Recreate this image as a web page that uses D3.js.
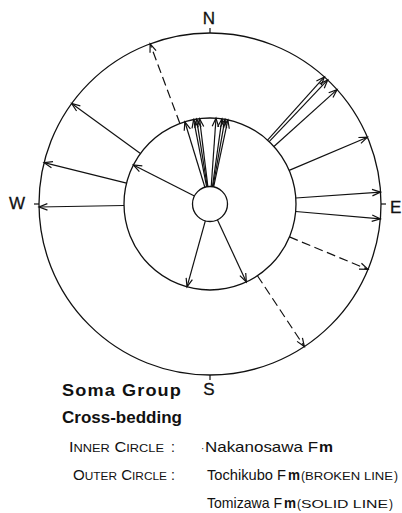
<!DOCTYPE html>
<html>
<head>
<meta charset="utf-8">
<script src="https://cdn.jsdelivr.net/npm/d3@7/dist/d3.min.js"></script>
<style>
  html, body { margin: 0; padding: 0; background: #fff; }
  svg { display: block; }
  text { font-family: "Liberation Sans", Arial, sans-serif; fill: #111; }
</style>
</head>
<body>
<div id="chart"></div>
<script>
// Current directions (azimuth, degrees clockwise from north)
const nakanosawa = [343, 349, 351, 353, 4, 8, 10, 12, 297, 195.5, 155]; // inner circle
const tomizawa = [306, 284, 269, 42, 43.5, 48, 67, 86, 95];              // outer circle, solid
const tochikubo = [339.5, 112.5, 146.5];                                  // outer circle, broken
const compassLabels = ["N", "E", "S", "W"];
const compassAz = [0, 90, 180, 270];

const W = 402, H = 513;
const cx = 210, cy = 204;
const svg = d3.select("#chart").append("svg").attr("width", W).attr("height", H);
const g = svg.append("g").attr("transform", `translate(${cx},${cy})`);

const ang = d3.scaleLinear().domain([0, 360]).range([0, 2 * Math.PI]);
const ring = d3.scaleOrdinal().domain(["hub", "inner", "outer"]).range([17.5, 86, 171]);

// rings
["hub", "inner", "outer"].forEach(k => {
  g.append("circle").attr("r", ring(k))
    .attr("fill", "none").attr("stroke", "#111").attr("stroke-width", 1.3);
});

function arrow(az, r0, r1, dashed) {
  const a = ang(az);
  const p0 = d3.pointRadial(a, r0), p1 = d3.pointRadial(a, r1);
  g.append("line")
    .attr("x1", p0[0]).attr("y1", p0[1]).attr("x2", p1[0]).attr("y2", p1[1])
    .attr("stroke", "#111").attr("stroke-width", 1.2)
    .attr("stroke-dasharray", dashed ? "9,4.5" : null);
  // open arrowhead
  const len = 9, spread = ang(21);
  const back = a + Math.PI;
  const h1 = [p1[0] + len * Math.sin(back - spread), p1[1] - len * Math.cos(back - spread)];
  const h2 = [p1[0] + len * Math.sin(back + spread), p1[1] - len * Math.cos(back + spread)];
  g.append("path")
    .attr("d", d3.line()([h1, p1, h2]))
    .attr("fill", "none").attr("stroke", "#111").attr("stroke-width", 1.2);
}

nakanosawa.forEach(az => arrow(az, ring("hub"), ring("inner"), false));
tomizawa.forEach(az => arrow(az, ring("inner"), ring("outer"), false));
tochikubo.forEach(az => arrow(az, ring("inner"), ring("outer"), true));

// compass ticks and letters
const labelPos = { 0: [-1, -186], 90: [180, 3], 180: [-1, 185], 270: [-193, -1] };
compassAz.forEach((az, i) => {
  const a = ang(az);
  const t0 = d3.pointRadial(a, ring("outer")), t1 = d3.pointRadial(a, ring("outer") + 5);
  g.append("line").attr("x1", t0[0]).attr("y1", t0[1]).attr("x2", t1[0]).attr("y2", t1[1])
    .attr("stroke", "#111").attr("stroke-width", 1.2);
  const lp = labelPos[az];
  g.append("text").text(compassLabels[i])
    .attr("x", lp[0]).attr("y", lp[1])
    .attr("text-anchor", az === 90 ? "start" : "middle").attr("dominant-baseline", "central")
    .attr("font-size", 17)
    .attr("stroke", "#111").attr("stroke-width", 0.3);
});

// caption
function line(y) { return svg.append("text").attr("y", y); }
function seg(t, x, str, size, len, bold) {
  const s = t.append("tspan").attr("x", x).text(str).attr("font-size", size);
  if (len) s.attr("textLength", len).attr("lengthAdjust", "spacingAndGlyphs");
  if (bold) s.attr("font-weight", "bold");
  return s;
}
function smallCaps(t, x, words, big, small, len) {
  const s = t.append("tspan").attr("x", x);
  words.forEach((w, i) => {
    s.append("tspan").attr("font-size", big).text((i ? " " : "") + w[0]);
    s.append("tspan").attr("font-size", small).text(w.slice(1));
  });
  if (len) s.attr("textLength", len).attr("lengthAdjust", "spacingAndGlyphs");
  return s;
}

seg(line(396), 62, "Soma Group", 16, 120, true).attr("letter-spacing", 1);
seg(line(423), 62, "Cross-bedding", 17, 120, true);

const l1 = line(452);
smallCaps(l1, 69, ["INNER", "CIRCLE"], 14, 11, 95);
seg(l1, 171, ":", 14);
seg(l1, 201, "·", 10);
seg(l1, 205, "Nakanosawa F", 15, 113);
seg(l1, 319, "m", 15, 14, true);

const l2 = line(480);
smallCaps(l2, 73, ["OUTER", "CIRCLE"], 14, 11, 94);
seg(l2, 171, ":", 14);
seg(l2, 207, "Tochikubo F", 15, 79);
seg(l2, 288, "m", 15, 12, true);
seg(l2, 301, "(", 12);
smallCaps(l2, 305, ["BROKEN", "LINE"], 11, 11, 88);
seg(l2, 394, ")", 12);

const l3 = line(508);
seg(l3, 207, "Tomizawa F", 15, 75);
seg(l3, 284, "m", 15, 12, true);
seg(l3, 297, "(", 12);
smallCaps(l3, 301, ["SOLID", "LINE"], 11, 11, 87);
seg(l3, 389, ")", 12);
</script>
</body>
</html>
